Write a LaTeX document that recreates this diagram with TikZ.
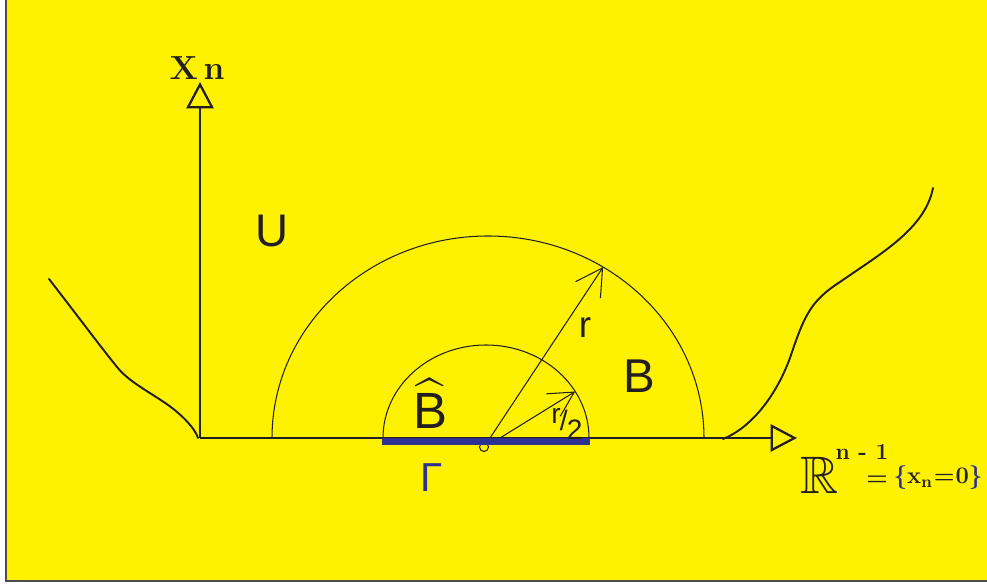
\documentclass[tikz,border=0pt]{standalone}
\usepackage{amsmath,amssymb}
\usepackage{fontspec}
\usepackage{xcolor}
\usepackage{tikz}
\usetikzlibrary{arrows.meta,positioning,calc}
\newfontfamily\labelfont{Liberation Sans}
\definecolor{bgyellow}{HTML}{FFF200}
\definecolor{ink}{HTML}{231F20}
\definecolor{gammablue}{HTML}{2E3192}
\definecolor{framegray}{HTML}{4D4D4D}
\tikzset{
  axisarrow/.style={draw=ink,line width=.6pt,
    -{Triangle[open,length=15pt,width=15.5pt,line width=1.3pt]}},
  halfarc/.style={draw=ink,line width=.6pt},
  rarrow/.style={draw=ink,line width=.6pt,
    -{Straight Barb[length=15pt,width=17pt,line width=.6pt]}},
  halfrarrow/.style={draw=ink,line width=.6pt,
    -{Straight Barb[length=14pt,width=15pt,line width=.6pt]}},
  boundaryline/.style={draw=ink,line width=1.1pt,line cap=round},
  gammabar/.style={draw=gammablue,line width=3.7pt},
  lbl/.style={inner sep=0pt,text=ink}
}
\begin{document}
\begin{tikzpicture}[x=0.02cm,y=0.02cm]
\useasboundingbox (0,0) rectangle (987,584);
\fill[white] (0,0) rectangle (987,584);
\fill[bgyellow] (6,3) rectangle (987,584);
\draw[framegray,line width=.9pt] (6,584) -- (6,3) -- (987,3);

\coordinate (O) at (200,146);
\coordinate (xtip) at (200,502);
\coordinate (etip) at (797,146);
\coordinate (bc) at (488,146);
\coordinate (hc) at (486,146);
\coordinate (rs) at (490,146);
\coordinate (hs) at (500,146);
\coordinate (rtip) at ($(bc)+(57.8:216 and 202)$);
\coordinate (htip) at ($(hc)+(30:103 and 93)$);
\coordinate (gl) at (382,142.5);
\coordinate (gr) at (590,142.5);

% boundary of U
\draw[boundaryline] (49,305) .. controls (80,265) and (100,238) .. (117,217)
  .. controls (130,200) and (160,187) .. (177,172)
  .. controls (190,161) and (196,152) .. (198,146);
\draw[boundaryline] (723,145) .. controls (755,158) and (780,195) .. (792,232)
  .. controls (805,270) and (812,284) .. (840,302)
  .. controls (880,330) and (925,355) .. (933,396);

\draw[halfarc] ($(bc)+(216,0)$) arc[start angle=0,end angle=180,x radius=216,y radius=202];
\draw[halfarc] ($(hc)+(103,0)$) arc[start angle=0,end angle=180,x radius=103,y radius=93];

\draw[axisarrow] (O) -- (xtip);
\draw[axisarrow] (O) -- (etip);
\draw[rarrow] (rs) -- (rtip);
\draw[halfrarrow] (hs) -- (htip);

\draw[halfarc] (484,137) circle[radius=4.5];
\draw[gammabar] (gl) -- (gr);

\node[lbl,font=\bfseries\fontsize{19}{19}\selectfont] (xn) at (197,516) {X\,n};
\node[lbl,font=\labelfont\fontsize{26}{26}\selectfont] (U) at (272,353) {U};
\node[lbl,font=\labelfont\fontsize{27}{27}\selectfont] (B) at (639,208) {B};
\node[lbl,font=\labelfont\fontsize{29}{29}\selectfont] (Bhat) at (430,180) {$\widehat{\mbox{B}}$};
\node[lbl,font=\labelfont\fontsize{21}{21}\selectfont] (r) at (585,256) {r};
\node[lbl,font=\labelfont\fontsize{16}{16}\selectfont] (rhalf) at (567,160)
  {\raisebox{4pt}{r}\kern-.5pt/\kern-.5pt\raisebox{-5pt}{2}};
\node[lbl,font=\labelfont\fontsize{23}{23}\selectfont,text=gammablue] (Gamma) at (432,106) {Γ};

\node[lbl,font=\fontsize{30}{30}\selectfont] (R) at (820,109) {$\mathbb{R}$};
\node[lbl,font=\bfseries\fontsize{13}{13}\selectfont] (sup) at (862,132) {n - 1};
\node[lbl,font=\bfseries\fontsize{14}{14}\selectfont] (eq) at (877,103) {=};
\node[lbl,font=\bfseries\fontsize{13.5}{13.5}\selectfont] (set) at (938,106)
  {\textcolor{gammablue}{\{}x\textsubscript{n}\kern.5pt=\kern.5pt0\textcolor{gammablue}{\}}};
\end{tikzpicture}
\end{document}
